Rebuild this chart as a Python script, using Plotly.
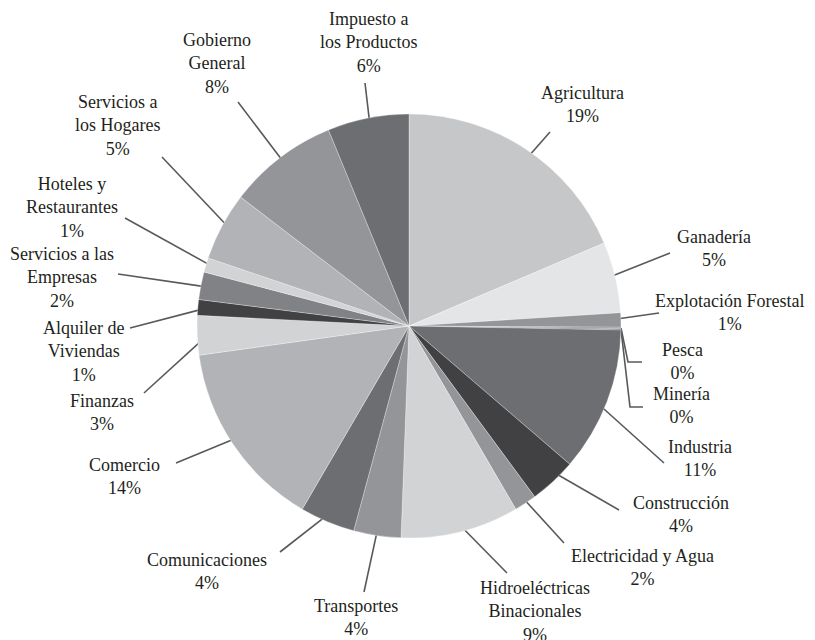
import math
import plotly.graph_objects as go

# sectores (sentido horario desde las 12)
categories = [
    "Agricultura", "Ganadería", "Explotación Forestal", "Pesca", "Minería",
    "Industria", "Construcción", "Electricidad y Agua",
    "Hidroeléctricas Binacionales", "Transportes", "Comunicaciones",
    "Comercio", "Finanzas", "Alquiler de Viviendas",
    "Servicios a las Empresas", "Hoteles y Restaurantes",
    "Servicios a los Hogares", "Gobierno General", "Impuesto a los Productos",
]
shares = [18.6, 5.4, 1.1, 0.1, 0.1, 11.0, 3.6, 1.7, 9.0, 3.6, 4.2,
          14.4, 3.0, 1.2, 2.1, 1.1, 5.2, 8.4, 6.2]

# texto de etiqueta con saltos de linea
wrapped = {
    "Hidroeléctricas Binacionales": "Hidroeléctricas<br>Binacionales",
    "Alquiler de Viviendas": "Alquiler de<br>Viviendas",
    "Servicios a las Empresas": "Servicios a las<br>Empresas",
    "Hoteles y Restaurantes": "Hoteles y<br>Restaurantes",
    "Servicios a los Hogares": "Servicios a<br>los Hogares",
    "Gobierno General": "Gobierno<br>General",
    "Impuesto a los Productos": "Impuesto a<br>los Productos",
}

colors = ["#c6c7c8", "#e4e5e6", "#939598", "#808285", "#6d6e71",
          "#6d6e71", "#414042", "#939598", "#d1d3d4", "#939598", "#6d6e71",
          "#b1b3b6", "#d1d3d4", "#414042", "#808285", "#d1d3d4",
          "#b1b3b6", "#939598", "#6d6e71"]

# geometria en pixeles de pantalla (la pagina tiene 8px de margen)
W, H = 815, 640
OFF = 8
CX, CY, R = 409, 326, 212

# posicion del bloque de texto (centro) y puntos exteriores de cada guia
label_pos = [(582, 104), (714, 248), (729, 312), (682, 361), (681, 405),
             (700, 458), (681, 514), (642, 567), (535, 611), (356, 617),
             (207, 571), (124, 476), (102, 412), (83, 351), (62, 277),
             (72, 207), (117, 125), (217, 63), (369, 42)]
inner_frac = [0.77, 0.93, 0.93, 1.0, 1.0, 0.9, 0.87, 0.95, 0.96, 0.93,
              0.95, 0.9, 0.95, 0.96, 0.95, 0.96, 0.94, 0.95, 0.93]
outer_pts = [
    [(550, 132)], [(670, 253)], [(659, 313)],
    [(628, 362), (642, 362)], [(630, 407), (643, 407)],
    [(664, 463)], [(619, 510)], [(564, 543)], [(507, 573)], [(364, 592)],
    [(280, 552)], [(176, 463)], [(144, 393)], [(130, 328)], [(118, 274)],
    [(125, 218)], [(162, 157)], [(238, 102)], [(365, 83)],
]

total = sum(shares)

fig = go.Figure()
fig.add_trace(go.Pie(
    labels=categories, values=shares, sort=False, direction="clockwise",
    rotation=0, textinfo="none", hoverinfo="label+percent",
    marker=dict(colors=colors, line=dict(color="rgba(255,255,255,0.6)", width=0.5)),
    domain=dict(x=[(CX - OFF - R) / W, (CX - OFF + R) / W],
                y=[1 - (CY - OFF + R) / H, 1 - (CY - OFF - R) / H]),
    showlegend=False,
))

# lineas guia desde el angulo medio de cada sector
lx, ly = [], []
cum = 0.0
for i, v in enumerate(shares):
    mid = (cum + v / 2) / total * 2 * math.pi
    cum += v
    r = inner_frac[i] * R
    lx.append(CX + r * math.sin(mid))
    ly.append(CY - r * math.cos(mid))
    for px, py in outer_pts[i]:
        lx.append(px)
        ly.append(py)
    lx.append(None)
    ly.append(None)

fig.add_trace(go.Scatter(x=lx, y=ly, mode="lines", hoverinfo="skip",
                         line=dict(color="#58595b", width=1.6), showlegend=False))

for name, v, (tx, ty) in zip(categories, shares, label_pos):
    fig.add_annotation(
        x=tx, y=ty, xref="x", yref="y", showarrow=False,
        text=f"{wrapped.get(name, name)}<br>{round(v / total * 100)}%",
        align="center", xanchor="center", yanchor="middle",
        font=dict(family="Liberation Serif, DejaVu Serif, serif", size=18,
                  color="#231f20"),
    )

fig.update_layout(
    width=W, height=H, margin=dict(l=0, r=0, t=0, b=0),
    paper_bgcolor="white", plot_bgcolor="rgba(0,0,0,0)",
    font=dict(family="Liberation Serif, DejaVu Serif, serif"),
    xaxis=dict(range=[OFF, W + OFF], visible=False, fixedrange=True),
    yaxis=dict(range=[H + OFF, OFF], visible=False, fixedrange=True),
)

fig.write_html("out.html")
